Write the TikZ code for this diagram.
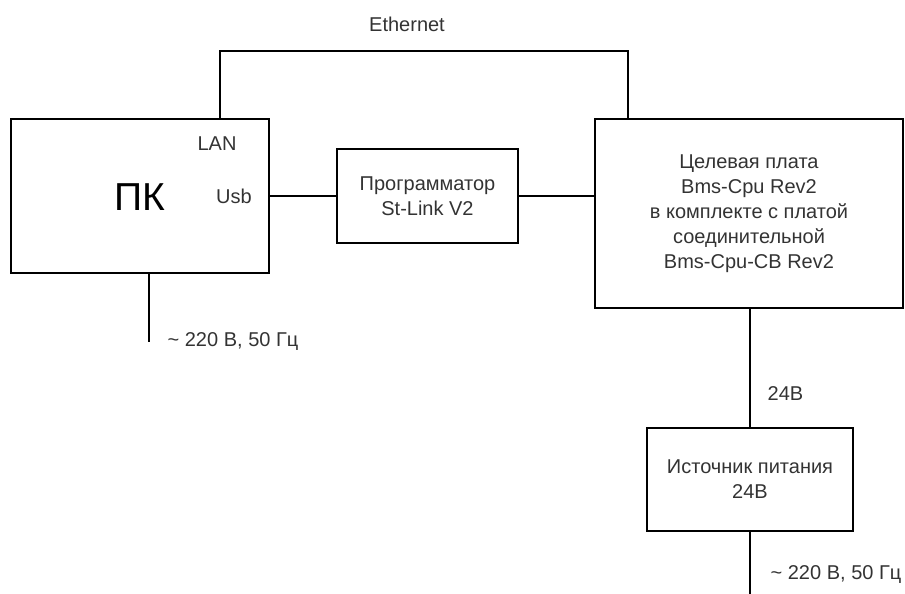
\documentclass[tikz,border=0pt]{standalone}
\usepackage{fontspec}
\setmainfont{Liberation Sans}
\usepackage{xcolor}
\usepackage{tikz}
\usetikzlibrary{positioning,calc}

\definecolor{txtgray}{HTML}{333333}

\begin{document}
\begin{tikzpicture}[
            x=1pt, y=-1pt,
            line width=1.3pt,
            every node/.style={font=\fontsize{20}{25}\selectfont, text=txtgray},
            blk/.style={draw=black, line width=1.3pt, align=center, inner sep=0pt},
            lbl/.style={inner sep=0pt},
        ]
            \useasboundingbox (0,0) rectangle (905,594);
            % blocks
            \node[blk, minimum width=258, minimum height=154] (pc) at (140,196) {};
            \node[font=\fontsize{39}{39}\selectfont, text=black] (pcname) at (140,197) {ПК};
            \node[blk, minimum width=181, minimum height=94] (prog) at (427.5,196) {Программатор\\St-Link V2};
            \node[blk, minimum width=308, minimum height=189] (target) at (749,213.5)
                {Целевая плата\\Bms-Cpu Rev2\\в комплекте с платой\\соединительной\\Bms-Cpu-CB Rev2};
            \node[blk, minimum width=206, minimum height=103] (psu) at (750,479.5) {Источник питания\\24В};
            % port and line labels
            \node[lbl] (lan) at (217,144) {LAN};
            \node[lbl] (usb) at (234,196) {Usb};
            \node[lbl] (eth) at (407,24) {Ethernet};
            \node[lbl, anchor=west] (pcac) at (167,342) {\textasciitilde{} 220 В, 50 Гц};
            \node[lbl, anchor=west] (dc) at (767,394) {24В};
            \node[lbl, anchor=west] (psuac) at (770,575) {\textasciitilde{} 220 В, 50 Гц};
            % wiring
            \coordinate (lanup) at (220,51);
            \coordinate (ethup) at (628,51);
            \coordinate (pcmains) at (149,342);
            \coordinate (psumains) at (750,594);
            \draw (pc.north -| lanup) -- (lanup) -- (ethup) -- (target.north -| ethup);
            \draw (pc.east) -- (prog.west);
            \draw (prog.east) -- (target.west |- prog.east);
            \draw (pc.south -| pcmains) -- (pcmains);
            \draw (target.south -| psu.north) -- (psu.north);
            \draw (psu.south) -- (psumains);
        \end{tikzpicture}
\end{document}
